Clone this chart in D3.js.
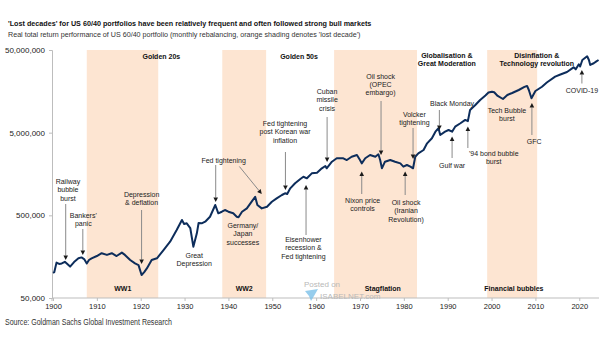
<!DOCTYPE html>
<html>
<head>
<meta charset="utf-8">
<script src="https://cdn.jsdelivr.net/npm/d3@7/dist/d3.min.js"></script>
<style>
  body { margin: 0; background: #fff; }
  svg { display: block; font-family: "Liberation Sans", Arial, sans-serif; }
</style>
</head>
<body>
<div id="chart"></div>
<script>
// real total return of a US 60/40 portfolio (log scale)
const years = [1900.0,1900.3,1900.8,1901.4,1902.0,1902.7,1903.9,1904.8,1905.8,1906.5,1907.1,1907.7,1908.2,1908.8,1910.0,1911.1,1912.3,1913.4,1914.5,1915.7,1916.4,1917.6,1918.7,1919.5,1920.2,1920.8,1921.4,1922.5,1923.7,1925.2,1926.7,1928.2,1929.4,1929.9,1930.5,1931.3,1932.0,1932.8,1933.2,1933.9,1934.7,1935.8,1937.0,1937.7,1938.5,1939.2,1940.0,1941.1,1941.9,1942.3,1943.1,1944.2,1945.3,1946.1,1946.6,1947.6,1948.8,1949.9,1951.0,1952.2,1952.9,1953.4,1954.1,1955.2,1956.4,1957.1,1957.9,1959.0,1960.2,1961.3,1962.1,1962.4,1963.6,1964.7,1965.5,1966.2,1967.0,1968.1,1969.3,1970.0,1970.4,1971.2,1972.3,1973.5,1974.2,1974.6,1975.0,1975.7,1976.9,1978.0,1979.2,1979.9,1980.7,1981.5,1982.1,1982.6,1983.3,1984.5,1985.3,1986.4,1987.2,1987.9,1988.3,1989.4,1990.2,1991.0,1991.7,1992.9,1994.0,1994.6,1995.1,1996.3,1997.4,1998.6,1999.3,2000.1,2000.6,2001.4,2002.6,2003.6,2004.7,2006.2,2007.5,2008.1,2008.5,2009.1,2010.0,2011.5,2012.6,2014.5,2015.7,2017.2,2018.7,2019.2,2019.9,2020.2,2020.7,2021.8,2022.2,2022.5,2023.3,2023.9,2024.4];
const values = [101000,103000,134000,129000,131000,137000,120000,136000,151000,155000,148000,131000,144000,151000,161000,174000,166000,174000,161000,177000,166000,144000,131000,125000,95000,103000,114000,144000,151000,190000,240000,332000,439000,393000,400000,351000,209000,303000,404000,400000,419000,481000,667000,529000,553000,580000,553000,529000,481000,473000,553000,607000,731000,840000,667000,607000,636000,731000,803000,881000,923000,905000,1061000,1222000,1377000,1466000,1403000,1610000,1640000,1853000,1976000,1853000,2227000,2449000,2449000,2449000,2333000,2559000,2685000,2333000,2127000,2449000,2685000,2559000,2736000,2333000,1853000,2227000,2333000,2227000,2127000,1941000,2032000,1941000,1853000,2559000,2811000,3083000,3715000,4274000,5140000,5650000,4686000,5140000,5384000,5140000,5910000,6500000,7128000,6900000,9400000,10810000,12420000,14080000,15310000,15660000,15400000,13900000,12770000,14290000,15100000,16410000,17870000,18370000,16410000,13030000,15960000,17980000,20230000,23770000,25280000,27100000,30850000,29170000,33540000,31550000,37840000,41970000,37840000,32970000,34590000,36400000,37840000];

// 'lost decade' shading
const bandStart = [1907.7, 1938.6, 1964.1, 1999.0];
const bandEnd = [1924.0, 1948.6, 1983.0, 2010.4];
const bandBottomLabels = ["WW1", "WW2", "Stagflation", "Financial bubbles"];

const yTicks = [50000, 500000, 5000000, 50000000];
const xTicks = [1900, 1910, 1920, 1930, 1940, 1950, 1960, 1970, 1980, 1990, 2000, 2010, 2020];

const W = 605, H = 341;
const svg = d3.select("#chart").append("svg").attr("width", W).attr("height", H);

const x = d3.scaleLinear().domain([1900, 2024.5]).range([53, 599]);
const y = d3.scaleLog().domain([50000, 50000000]).range([298, 50]);

// bands
svg.append("g").selectAll("rect")
  .data(bandStart)
  .join("rect")
  .attr("x", d => x(d))
  .attr("width", (d, i) => x(bandEnd[i]) - x(d))
  .attr("y", 50)
  .attr("height", 248)
  .attr("fill", "#fde5d2");

// axes
const yAxis = svg.append("g")
  .attr("transform", "translate(52,0)")
  .call(d3.axisLeft(y).tickValues(yTicks).tickFormat(d3.format(",")).tickSize(3).tickPadding(4));
const xAxis = svg.append("g")
  .attr("transform", "translate(0,298)")
  .call(d3.axisBottom(x).tickValues(xTicks).tickFormat(d3.format("d")).tickSize(3).tickPadding(3));
xAxis.select(".domain").attr("d", "M52,3V0H599");
[yAxis, xAxis].forEach(g => {
  g.select(".domain").attr("stroke", "#bdbdbd");
  g.selectAll(".tick line").attr("stroke", "#bdbdbd");
  g.selectAll("text").attr("fill", "#222").attr("font-family", "Liberation Sans, Arial, sans-serif");
});
yAxis.selectAll("text").attr("font-size", 8);
xAxis.selectAll("text").attr("font-size", 7.5);

// watermark (under the labels)
const wm = svg.append("g").attr("fill", "#b8b8b8").attr("font-size", 8);
wm.append("text").attr("x", 304).attr("y", 287).text("Posted on");
wm.append("text").attr("x", 320).attr("y", 299).text("ISABELNET.com");
wm.append("path")
  .attr("d", "M305,291 L318,289 L314,296 L311,301 L309,296 Z")
  .attr("fill", "#7cc0e8").attr("opacity", 0.8);

// band labels
const boldLabel = (cx, baseY, lines) => {
  const t = svg.append("text").attr("font-size", 7).attr("font-weight", "bold")
    .attr("fill", "#111").attr("text-anchor", "middle");
  lines.forEach((s, i) => t.append("tspan").attr("x", x(cx)).attr("y", baseY + i * 8.5).text(s));
};
const bottomLabelYears = [1915.9, 1943.6, 1975.2, 2005.1];
bandBottomLabels.forEach((s, i) => boldLabel(bottomLabelYears[i], 290.5, [s]));
boldLabel(1924.7, 59, ["Golden 20s"]);
boldLabel(1956.1, 59, ["Golden 50s"]);
boldLabel(1989.8, 57.5, ["Globalisation &", "Great Moderation"]);
boldLabel(2010.3, 57.5, ["Disinflation &", "Technology revolution"]);

// series
const pts = years.map((yr, i) => [yr, values[i]]);
svg.append("path")
  .datum(pts)
  .attr("fill", "none")
  .attr("stroke", "#0d2d5b")
  .attr("stroke-width", 2)
  .attr("stroke-linejoin", "round")
  .attr("d", d3.line().x(d => x(d[0])).y(d => y(d[1])));

// annotations: text lines centred on a year, arrows from (year, py) to (year, py)
const notes = [
  { cx: 1903.4, ty: 184, lines: ["Railway", "bubble", "burst"], arrows: [[1902.9, 204, 1902.9, 260]] },
  { cx: 1906.9, ty: 218, lines: ["Bankers'", "panic"], arrows: [[1906.8, 229, 1906.8, 255]] },
  { cx: 1920.2, ty: 196.5, lines: ["Depression", "& deflation"], arrows: [[1920.2, 210, 1920.2, 264]] },
  { cx: 1932.2, ty: 257.5, lines: ["Great", "Depression"], arrows: [] },
  { cx: 1938.9, ty: 162.5, lines: ["Fed tightening"], arrows: [[1937.1, 165, 1937.1, 202], [1942.5, 166.5, 1947.6, 194]] },
  { cx: 1943.3, ty: 228, lines: ["Germany/", "Japan", "successes"], arrows: [] },
  { cx: 1952.9, ty: 126, lines: ["Fed tightening", "post Korean war", "inflation"], arrows: [[1953.0, 152, 1953.0, 190]] },
  { cx: 1957.1, ty: 242, lines: ["Eisenhower", "recession &", "Fed tightening"], arrows: [[1957.7, 235, 1957.7, 185]] },
  { cx: 1962.5, ty: 94, lines: ["Cuban", "missile", "crisis"], arrows: [[1962.5, 117, 1962.5, 162]] },
  { cx: 1974.7, ty: 78.5, lines: ["Oil shock", "(OPEC", "embargo)"], arrows: [[1974.8, 101, 1974.8, 155]] },
  { cx: 1970.6, ty: 203, lines: ["Nixon price", "controls"], arrows: [[1970.4, 194, 1970.4, 171.5]] },
  { cx: 1980.5, ty: 205, lines: ["Oil shock", "(Iranian", "Revolution)"], arrows: [[1980.3, 195, 1980.3, 171.5]] },
  { cx: 1982.4, ty: 116.5, lines: ["Volcker", "tightening"], arrows: [[1982.1, 128, 1982.1, 159]] },
  { cx: 1991.0, ty: 106, lines: ["Black Monday"], arrows: [[1988.1, 110, 1988.1, 130]] },
  { cx: 1991.0, ty: 167.5, lines: ["Gulf war"], arrows: [[1991.0, 158, 1991.0, 136.5]] },
  { cx: 2000.5, ty: 156, lines: ["'94 bond bubble", "burst"], arrows: [[1994.6, 148, 1994.6, 126.5]] },
  { cx: 2003.5, ty: 112.5, lines: ["Tech Bubble", "burst"], arrows: [] },
  { cx: 2009.7, ty: 143.5, lines: ["GFC"], arrows: [[2009.2, 135, 2009.2, 103]] },
  { cx: 2020.6, ty: 92.5, lines: ["COVID-19"], arrows: [[2020.6, 83.5, 2020.6, 70]] }
];

const noteG = svg.append("g");
notes.forEach(n => {
  const t = noteG.append("text").attr("font-size", 7).attr("fill", "#222").attr("text-anchor", "middle");
  n.lines.forEach((s, i) => t.append("tspan").attr("x", x(n.cx)).attr("y", n.ty + i * 8.3).text(s));
  n.arrows.forEach(a => {
    const x1 = x(a[0]), y1 = a[1], x2 = x(a[2]), y2 = a[3];
    const ang = Math.atan2(y2 - y1, x2 - x1);
    const hl = 4.5, hw = 2.3;
    const bx = x2 - hl * Math.cos(ang), by = y2 - hl * Math.sin(ang);
    noteG.append("line")
      .attr("x1", x1).attr("y1", y1).attr("x2", bx).attr("y2", by)
      .attr("stroke", "#8a8a8a").attr("stroke-width", 1);
    const px = -Math.sin(ang) * hw, py = Math.cos(ang) * hw;
    noteG.append("path")
      .attr("d", `M${x2},${y2}L${bx + px},${by + py}L${bx - px},${by - py}Z`)
      .attr("fill", "#1a1a1a");
  });
});

// titles and source
svg.append("text").attr("x", 8).attr("y", 25.5).attr("font-size", 7.2).attr("font-weight", "bold").attr("fill", "#111")
  .text("'Lost decades' for US 60/40 portfolios have been relatively frequent and often followed strong bull markets");
svg.append("text").attr("x", 8).attr("y", 36.5).attr("font-size", 7.15).attr("fill", "#333")
  .text("Real total return performance of US 60/40 portfolio (monthly rebalancing, orange shading denotes 'lost decade')");
svg.append("text").attr("x", 5).attr("y", 325).attr("font-size", 8.4).attr("fill", "#333")
  .attr("font-family", "Liberation Sans Narrow, Arial Narrow, sans-serif")
  .attr("textLength", 167).attr("lengthAdjust", "spacingAndGlyphs")
  .text("Source: Goldman Sachs Global Investment Research");
</script>
</body>
</html>
